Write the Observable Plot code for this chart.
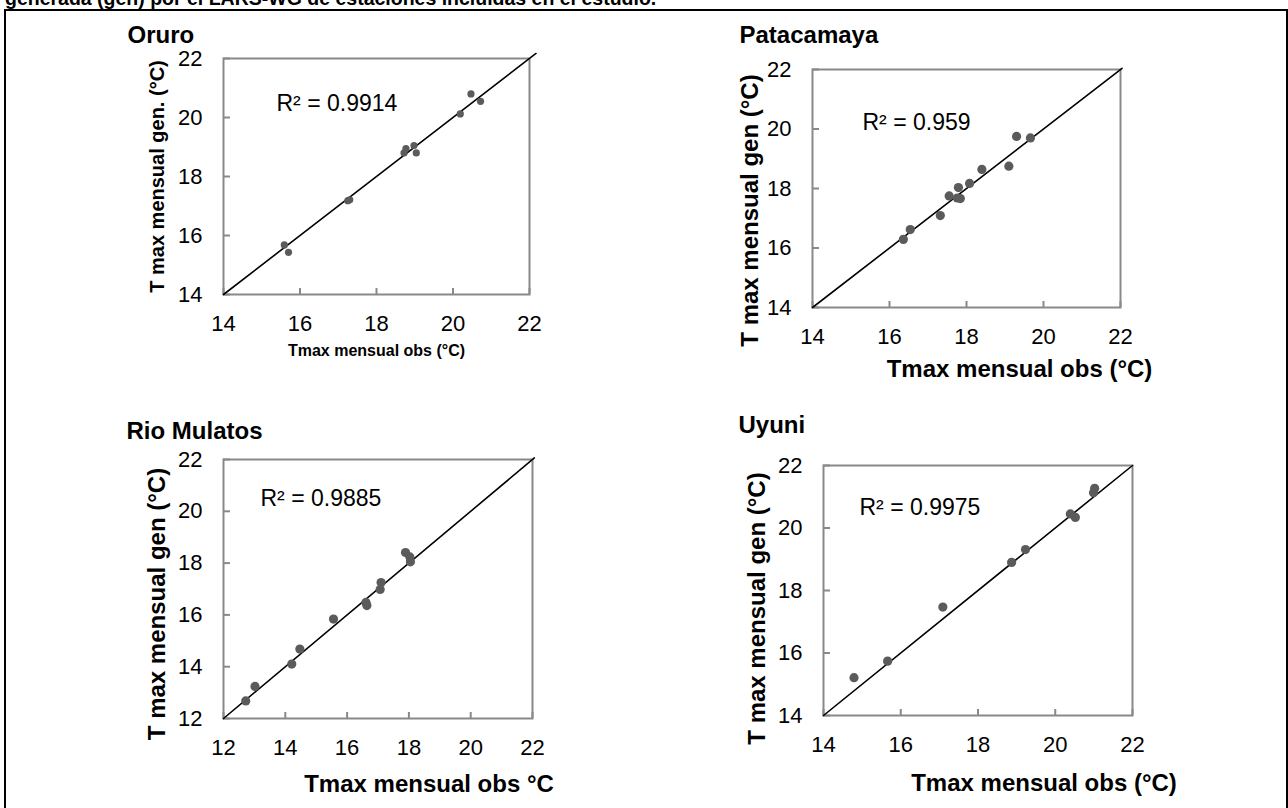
<!DOCTYPE html>
<html>
<head>
<meta charset="utf-8">
<script src="https://cdn.jsdelivr.net/npm/d3@7"></script>
<script src="https://cdn.jsdelivr.net/npm/@observablehq/plot@0.6"></script>
<style>
  body { margin: 0; background: #fff; }
  #page { position: relative; width: 1288px; height: 808px; overflow: hidden; background: #fff;
          font-family: Arial, "Liberation Sans", sans-serif; }
  #heading { position: absolute; left: 5px; top: -11px; font-weight: bold; font-size: 19.5px;
             line-height: 19.5px; white-space: nowrap; color: #000; }
  #box { position: absolute; left: 4px; top: 9px; width: 1280px; height: 830px; border: 2px solid #000; }
  .panel { position: absolute; }
</style>
</head>
<body>
<div id="page">
  <div id="heading">generada (gen) por el LARS-WG de estaciones incluidas en el estudio.</div>
  <div id="box"></div>
</div>
<script>
// Monthly mean maximum temperature (°C): observed vs generated by LARS-WG
const oruroObs = [15.59, 15.70, 17.25, 17.30, 18.72, 18.77, 18.98, 19.04, 20.19, 20.47, 20.72];
const oruroGen = [15.68, 15.43, 17.18, 17.21, 18.80, 18.95, 19.05, 18.80, 20.12, 20.80, 20.55];

const patacamayaObs = [16.36, 16.54, 17.32, 17.55, 17.79, 17.76, 17.84, 18.08, 18.40, 19.10, 19.30, 19.66];
const patacamayaGen = [16.29, 16.62, 17.09, 17.75, 18.03, 17.68, 17.66, 18.17, 18.64, 18.75, 19.75, 19.70];

const rioMulatosObs = [12.72, 13.02, 14.21, 14.47, 15.56, 16.61, 16.64, 17.07, 17.10, 17.89, 18.03, 18.05];
const rioMulatosGen = [12.68, 13.24, 14.10, 14.68, 15.84, 16.48, 16.36, 16.98, 17.25, 18.41, 18.24, 18.05];

const uyuniObs = [14.79, 15.66, 17.09, 18.87, 19.23, 20.39, 20.52, 20.99, 21.02];
const uyuniGen = [15.21, 15.74, 17.47, 18.90, 19.31, 20.45, 20.34, 21.13, 21.27];

const stationNames = ["Oruro", "Patacamaya", "Rio Mulatos", "Uyuni"];
const r2Labels = ["R² = 0.9914", "R² = 0.959", "R² = 0.9885", "R² = 0.9975"];
const xTitles = ["Tmax mensual obs (°C)", "Tmax mensual obs (°C)", "Tmax mensual obs °C", "Tmax mensual obs (°C)"];
const yTitles = ["T max mensual gen. (°C)", "T max mensual gen (°C)", "T max mensual gen (°C)", "T max mensual gen (°C)"];
const axisLow = [14, 14, 12, 14];
const axisHigh = [22, 22, 22, 22];
const tickValues = [
  [14, 16, 18, 20, 22],
  [14, 16, 18, 20, 22],
  [12, 14, 16, 18, 20, 22],
  [14, 16, 18, 20, 22]
];
// where the 1:1 reference line stops
const lineEnd = [22.17, 22.04, 22.06, 22.0];

const series = [
  [oruroObs, oruroGen],
  [patacamayaObs, patacamayaGen],
  [rioMulatosObs, rioMulatosGen],
  [uyuniObs, uyuniGen]
];

// Page layout: plot frame edges (px) and text offsets relative to the frame
const layout = [
  {L: 223, T: 58, R: 529, B: 294, dotR: 3.6,
   title: [-96, -16], r2: [53, 45], xt: [0, 61, 16], yt: [-66, 0, 20]},
  {L: 812, T: 69, R: 1120, B: 307, dotR: 4.6,
   title: [-73, -27], r2: [50, 53], xt: [53, 69, 24], yt: [-62, 22, 24]},
  {L: 223, T: 459, R: 532, B: 718, dotR: 4.6,
   title: [-97, -21], r2: [37, 39], xt: [51, 73, 24], yt: [-66, 15, 24]},
  {L: 823, T: 465, R: 1132, B: 715, dotR: 4.6,
   title: [-85, -33], r2: [36, 42], xt: [66, 75, 24], yt: [-66, 18, 24]}
];

const FONT = "Arial, 'Liberation Sans', sans-serif";
const FRAME_GREY = "#898989";
const DOT_GREY = "#5b5b5b";

const page = document.getElementById("page");

stationNames.forEach((name, i) => {
  const lay = layout[i];
  const [obs, gen] = series[i];
  const pts = obs.map((o, j) => ({obs: o, gen: gen[j]}));
  const lo = axisLow[i], hi = axisHigh[i];
  const diag = [{v: lo}, {v: lineEnd[i]}];

  const mL = 140, mT = 55, mR = 30, mB = 100;
  const w = lay.R - lay.L, h = lay.B - lay.T;

  const chart = Plot.plot({
    width: mL + w + mR,
    height: mT + h + mB,
    marginLeft: mL, marginTop: mT, marginRight: mR, marginBottom: mB,
    style: {fontFamily: FONT, fontSize: "22px", color: "#000", background: "transparent", overflow: "visible"},
    x: {domain: [lo, hi]},
    y: {domain: [lo, hi]},
    marks: [
      Plot.frame({stroke: FRAME_GREY, strokeWidth: 2}),
      Plot.axisX({ticks: tickValues[i], tickFormat: "d", tickSize: -6, tickPadding: 27, fontSize: 22,
                  stroke: FRAME_GREY, strokeWidth: 2, fill: "#000", label: null}),
      Plot.axisY({ticks: tickValues[i], tickFormat: "d", tickSize: -7, tickPadding: 28, fontSize: 22,
                  stroke: FRAME_GREY, strokeWidth: 2, fill: "#000", label: null}),
      Plot.line(diag, {x: "v", y: "v", stroke: "#000", strokeWidth: 1.6}),
      Plot.dot(pts, {x: "obs", y: "gen", r: lay.dotR, fill: DOT_GREY, stroke: "none"}),
      Plot.text([r2Labels[i]], {frameAnchor: "top-left", textAnchor: "start", lineAnchor: "middle",
                  dx: lay.r2[0], dy: lay.r2[1], fontSize: 23, fill: "#000"}),
      Plot.text([name], {frameAnchor: "top-left", textAnchor: "start", lineAnchor: "bottom",
                  dx: lay.title[0], dy: lay.title[1], fontSize: 24, fontWeight: "bold", fill: "#000"}),
      Plot.text([xTitles[i]], {frameAnchor: "bottom", textAnchor: "middle", lineAnchor: "bottom",
                  dx: lay.xt[0], dy: lay.xt[1], fontSize: lay.xt[2], fontWeight: "bold", fill: "#000"}),
      Plot.text([yTitles[i]], {frameAnchor: "left", textAnchor: "middle", lineAnchor: "middle", rotate: -90,
                  dx: lay.yt[0], dy: lay.yt[1], fontSize: lay.yt[2], fontWeight: "bold", fill: "#000"})
    ]
  });
  chart.classList.add("panel");
  chart.style.left = (lay.L - mL) + "px";
  chart.style.top = (lay.T - mT) + "px";
  page.appendChild(chart);
});
</script>
</body>
</html>
